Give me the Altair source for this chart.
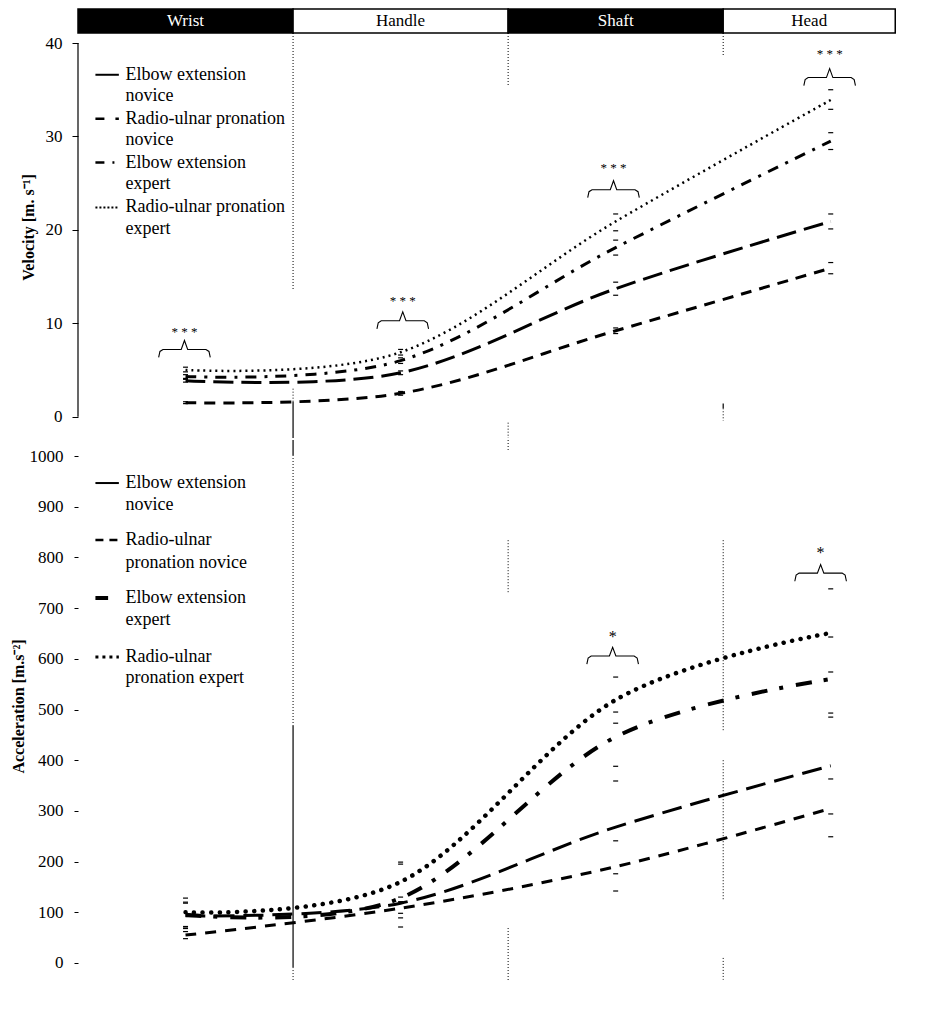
import altair as alt
import pandas as pd

FONT = "Liberation Serif"

# ---------------- data ----------------
phases = ["Wrist", "Handle", "Shaft", "Head"]
phase_x = [0.5, 1.5, 2.5, 3.5]
band_start = [0.0, 1.0, 2.0, 3.0]
band_end = [1.0, 2.0, 3.0, 3.8]
band_fill = ["black", "white", "black", "white"]
band_text_color = ["white", "black", "white", "black"]
band_text_x = [0.5, 1.5, 2.5, 3.4]

series_keys = ["EN", "RN", "EE", "RE"]

# Velocity [m/s]
vel_mean = {
    "EN": [3.85, 4.7, 13.7, 20.9],
    "RN": [1.5, 2.5, 9.2, 15.9],
    "EE": [4.3, 6.0, 18.1, 29.5],
    "RE": [5.0, 6.9, 20.9, 33.9],
}
vel_hi = {
    "EN": [4.0, 4.9, 14.4, 21.7],
    "RN": [1.6, 2.7, 9.5, 16.5],
    "EE": [4.5, 6.3, 18.9, 30.4],
    "RE": [5.3, 7.2, 21.7, 35.0],
}
vel_lo = {
    "EN": [3.7, 4.5, 13.0, 20.1],
    "RN": [1.4, 2.3, 8.9, 15.3],
    "EE": [4.1, 5.7, 17.3, 28.6],
    "RE": [4.8, 6.6, 19.9, 32.9],
}

# Acceleration [m/s2]
acc_mean = {
    "EN": [93, 118, 268, 389],
    "RN": [55, 108, 190, 305],
    "EE": [95, 128, 446, 560],
    "RE": [100, 160, 519, 651],
}
acc_hi = {
    "EN": [118, 130, 359, 493],
    "RN": [62, 118, 241, 363],
    "EE": [120, 195, 495, 643],
    "RE": [128, 199, 564, 738],
}
acc_lo = {
    "EN": [68, 89, 176, 294],
    "RN": [48, 98, 142, 249],
    "EE": [69, 71, 388, 485],
    "RE": [72, 121, 473, 574],
}

# legends
legend_top_lines = ["Elbow extension", "novice", "Radio-ulnar pronation", "novice",
                    "Elbow extension", "expert", "Radio-ulnar pronation", "expert"]
legend_top_y = [36.6, 34.3, 31.9, 29.6, 27.2, 24.9, 22.4, 20.1]
legend_bot_lines = ["Elbow extension", "novice", "Radio-ulnar", "pronation novice",
                    "Elbow extension", "expert", "Radio-ulnar", "pronation expert"]
legend_bot_y = [946.7, 903.4, 834.3, 789.0, 719.9, 676.5, 603.6, 562.1]
legend_text_x = 0.221
legend_sample_x = [0.081, 0.19]

# significance brackets
br_top_x = [0.495, 1.51, 2.49, 3.495]
br_top_y = [7.2, 10.27, 24.3, 36.3]
br_top_txt_y = [9.1, 12.4, 26.6, 38.8]
br_top_txt = ["* * *", "* * *", "* * *", "* * *"]
br_bot_x = [2.486, 3.453]
br_bot_y = [605.5, 769.0]
br_bot_txt_y = [643.0, 809.0]
br_bot_txt = ["*", "*"]

# boundary line pieces (x, y from, y to, style)
seg_top = [
    (1, 41.07, 13.5, "dot"), (1, 3.0, 1.6, "dot"), (1, 1.6, -2.28, "solid"),
    (2, 41.07, 35.4, "dot"), (2, -0.64, -2.28, "dot"),
    (3, 41.07, 38.6, "dot"), (3, 1.4, 0.9, "solid"), (3, 0.9, -0.43, "dot"),
]
seg_bot = [
    (1, 1031.6, 1002, "solid"), (1, 1002, 469, "dot"), (1, 469, -8, "solid"), (1, -8, -33.5, "dot"),
    (2, 1031.6, 1012, "dot"), (2, 834, 730, "dot"), (2, 69, -37, "dot"),
    (3, 834, 456, "dot"), (3, 400, 124, "dot"), (3, 10, -33, "dot"),
]

# ---------------- scales / axes ----------------
XS = alt.Scale(domain=[0, 3.85], nice=False, zero=False)
YT = alt.Scale(domain=[-2.28, 43.64], nice=False, zero=False)
YB = alt.Scale(domain=[-43.4, 1031.6], nice=False, zero=False)

AXT = alt.Axis(values=[0, 10, 20, 30, 40], domain=False, grid=False, tickSize=6,
               tickColor="black", tickWidth=1, labelFont=FONT, labelFontSize=17,
               labelColor="black", labelPadding=10, title="Velocity [m. s⁻¹]",
               titleFont=FONT, titleFontSize=16, titleFontWeight="bold",
               titleColor="black", titleX=-49.5, titleY=218, titleBaseline="middle")
AXB = alt.Axis(values=list(range(0, 1001, 100)), format="d", domain=False, grid=False,
               tickSize=4, tickColor="black", tickWidth=1, labelFont=FONT, labelFontSize=17,
               labelColor="black", labelPadding=11, title="Acceleration [m.s⁻²]",
               titleFont=FONT, titleFontSize=16, titleFontWeight="bold",
               titleColor="black", titleX=-59.5, titleY=266, titleBaseline="middle")

W = 828
H_TOP = 429
H_BOT = 545

top_style = {
    "EN": dict(strokeDash=[20, 8], strokeWidth=3),
    "RN": dict(strokeDash=[11, 8], strokeWidth=3),
    "EE": dict(strokeDash=[11, 8, 3, 8], strokeWidth=3),
    "RE": dict(strokeDash=[2, 4], strokeWidth=2.5),
}
bot_style = {
    "EN": dict(strokeDash=[20, 9], strokeWidth=3),
    "RN": dict(strokeDash=[11, 9], strokeWidth=3),
    "EE": dict(strokeDash=[16, 12, 4, 13], strokeWidth=4),
    "RE": dict(strokeDash=[0.1, 8.5], strokeWidth=4.5, strokeCap="round"),
}
top_leg_style = {
    "EN": dict(strokeWidth=2),
    "RN": dict(strokeDash=[9, 11], strokeWidth=2.5),
    "EE": dict(strokeDash=[9, 8, 2, 8], strokeWidth=2.5),
    "RE": dict(strokeDash=[2, 2], strokeWidth=2),
}
bot_leg_style = {
    "EN": dict(strokeWidth=2),
    "RN": dict(strokeDash=[8, 6], strokeWidth=2.5),
    "EE": dict(strokeWidth=4),
    "RE": dict(strokeDash=[3, 4], strokeWidth=3),
}


def panel(ys, axis, mean, hi, lo, style, leg_style, leg_lines, leg_y,
          br_x, br_y, br_txt_y, br_txt, br_drop, br_tip, star_size, segs, height,
          header=False, axis_line=None):
    def Y(f):
        return alt.Y(f"{f}:Q", scale=ys, axis=axis)

    def X(f):
        return alt.X(f"{f}:Q", scale=XS, axis=None)

    layers = []

    # boundary lines
    sdf = pd.DataFrame(segs, columns=["x", "y", "y2", "style"])
    for st, dash, wdt in [("dot", [1, 2], 1), ("solid", None, 1.2)]:
        d = sdf[sdf["style"] == st]
        if len(d) == 0:
            continue
        kw = dict(color="black", strokeWidth=wdt)
        if dash:
            kw["strokeDash"] = dash
        layers.append(alt.Chart(d).mark_rule(**kw).encode(x=X("x"), y=Y("y"), y2="y2"))

    if axis_line is not None:
        adf = pd.DataFrame({"x": [0.0], "y": [axis_line[0]], "y2": [axis_line[1]]})
        layers.append(alt.Chart(adf).mark_rule(color="black", strokeWidth=1.2)
                      .encode(x=X("x"), y=Y("y"), y2="y2"))

    # series lines
    for k in series_keys:
        d = pd.DataFrame({"x": phase_x, "v": mean[k]})
        layers.append(alt.Chart(d).mark_line(color="black", interpolate="cardinal",
                                             tension=0, **style[k])
                      .encode(x=X("x"), y=Y("v")))

    # error ticks
    rows = []
    for k in series_keys:
        for xi, a, b in zip(phase_x, hi[k], lo[k]):
            rows.append({"x": xi, "v": a})
            rows.append({"x": xi, "v": b})
    edf = pd.DataFrame(rows)
    layers.append(alt.Chart(edf).mark_rule(color="black", strokeWidth=1.2,
                                           xOffset=-2.5, x2Offset=2.5)
                  .encode(x=X("x"), x2="x", y=Y("v")))

    # brackets
    rows = []
    hw = 0.12
    for i, (c, b) in enumerate(zip(br_x, br_y)):
        pts = [(c - hw, b - br_drop), (c - hw + 0.006, b - br_drop * 0.25), (c - hw + 0.02, b),
               (c - 0.015, b), (c, b + br_tip), (c + 0.015, b),
               (c + hw - 0.02, b), (c + hw - 0.006, b - br_drop * 0.25), (c + hw, b - br_drop)]
        for j, (px, py) in enumerate(pts):
            rows.append({"id": i, "o": j, "x": px, "v": py})
    bdf = pd.DataFrame(rows)
    layers.append(alt.Chart(bdf).mark_line(color="black", strokeWidth=1.1)
                  .encode(x=X("x"), y=Y("v"), detail="id:N", order="o:Q"))
    tdf = pd.DataFrame({"x": br_x, "v": br_txt_y, "t": br_txt})
    layers.append(alt.Chart(tdf).mark_text(font=FONT, fontSize=star_size, color="black",
                                           baseline="middle", align="center")
                  .encode(x=X("x"), y=Y("v"), text="t:N"))

    # legend
    ldf = pd.DataFrame({"x": [legend_text_x] * len(leg_lines), "v": leg_y, "t": leg_lines})
    layers.append(alt.Chart(ldf).mark_text(font=FONT, fontSize=18, color="black",
                                           baseline="middle", align="left")
                  .encode(x=X("x"), y=Y("v"), text="t:N"))
    for i, k in enumerate(series_keys):
        x0, x1 = legend_sample_x
        if not header and k == "EE":
            x1 = 0.14
        d = pd.DataFrame({"x": [x0, x1], "v": [leg_y[2 * i]] * 2})
        layers.append(alt.Chart(d).mark_line(color="black", **leg_style[k])
                      .encode(x=X("x"), y=Y("v")))

    if header:
        hdf = pd.DataFrame({"x": band_start, "x2": band_end, "fill": band_fill,
                            "y": [41.07] * 4, "y2": [43.64] * 4})
        layers.append(alt.Chart(hdf).mark_rect(stroke="black", strokeWidth=1.5)
                      .encode(x=X("x"), x2="x2", y=Y("y"), y2="y2",
                              color=alt.Color("fill:N", scale=None)))
        htdf = pd.DataFrame({"x": band_text_x, "v": [42.35] * 4, "t": phases,
                             "c": band_text_color})
        layers.append(alt.Chart(htdf).mark_text(font=FONT, fontSize=17, baseline="middle",
                                                align="center")
                      .encode(x=X("x"), y=Y("v"), text="t:N",
                              color=alt.Color("c:N", scale=None)))

    return alt.layer(*layers).properties(width=W, height=height)


top = panel(YT, AXT, vel_mean, vel_hi, vel_lo, top_style, top_leg_style,
            legend_top_lines, legend_top_y, br_top_x, br_top_y, br_top_txt_y, br_top_txt,
            0.86, 0.96, 13, seg_top, H_TOP, header=True, axis_line=(0, 40))
bottom = panel(YB, AXB, acc_mean, acc_hi, acc_lo, bot_style, bot_leg_style,
               legend_bot_lines, legend_bot_y, br_bot_x, br_bot_y, br_bot_txt_y, br_bot_txt,
               16, 17, 16, seg_bot, H_BOT, header=False)

chart = alt.vconcat(top, bottom, spacing=0).properties(
    padding={"left": 2, "top": 0, "right": 0, "bottom": 0}
).configure_view(stroke=None)

chart.save("out.html", embed_options={"renderer": "svg", "actions": False})
